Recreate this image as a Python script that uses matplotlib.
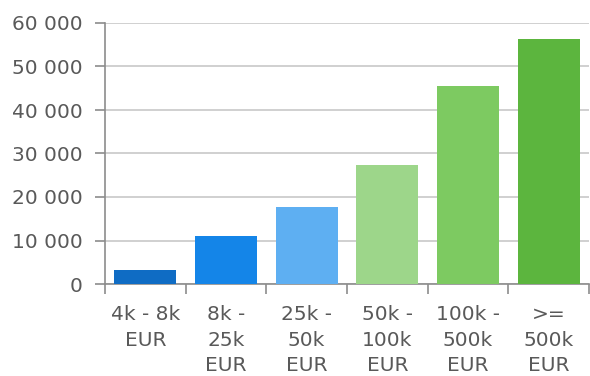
import matplotlib
matplotlib.use("Agg")
import matplotlib.pyplot as plt
import numpy as np

categories = ["4k - 8k\nEUR", "8k -\n25k\nEUR", "25k -\n50k\nEUR", "50k -\n100k\nEUR", "100k -\n500k\nEUR", ">=\n500k\nEUR"]
values = [3200, 11000, 17700, 27400, 45500, 56300]
colors = ["#0f6cc4", "#1485e8", "#5eaff2", "#9dd68a", "#7dca61", "#5cb53e"]
yticks = [0, 10000, 20000, 30000, 40000, 50000, 60000]
ytick_labels = ["0", "10 000", "20 000", "30 000", "40 000", "50 000", "60 000"]

plt.rcParams['font.family'] = ['DejaVu Sans']
fig = plt.figure(figsize=(5.9, 3.76), dpi=100)
ax = fig.add_axes([105/590, 1-284/376, 484/590, 261/376])
x = np.arange(len(values))
ax.bar(x, values, width=0.77, color=colors, zorder=3)
ax.set_xlim(-0.5, len(values)-0.5)
ax.set_ylim(0, 60000)
ax.set_yticks(yticks)
ax.set_yticklabels(ytick_labels)
ax.yaxis.grid(True, color="#c8c8c8", linewidth=1.2, zorder=0)
ax.set_xticks(x)
ax.set_xticklabels(categories, linespacing=1.45, va="top")
ax.set_xticks(np.arange(len(values)+1)-0.5, minor=True)
ax.tick_params(axis="x", which="major", length=0, pad=15, labelsize=14.5, labelcolor="#595959")
ax.tick_params(axis="x", which="minor", length=7, width=1.2, color="#8c8c8c")
ax.tick_params(axis="y", length=7, width=1.2, color="#8c8c8c", labelsize=14.5, labelcolor="#595959", pad=9)
for s in ["top", "right"]:
    ax.spines[s].set_visible(False)
for s in ["left", "bottom"]:
    ax.spines[s].set_color("#8c8c8c")
    ax.spines[s].set_linewidth(1.2)
fig.savefig("out.png", dpi=100)
